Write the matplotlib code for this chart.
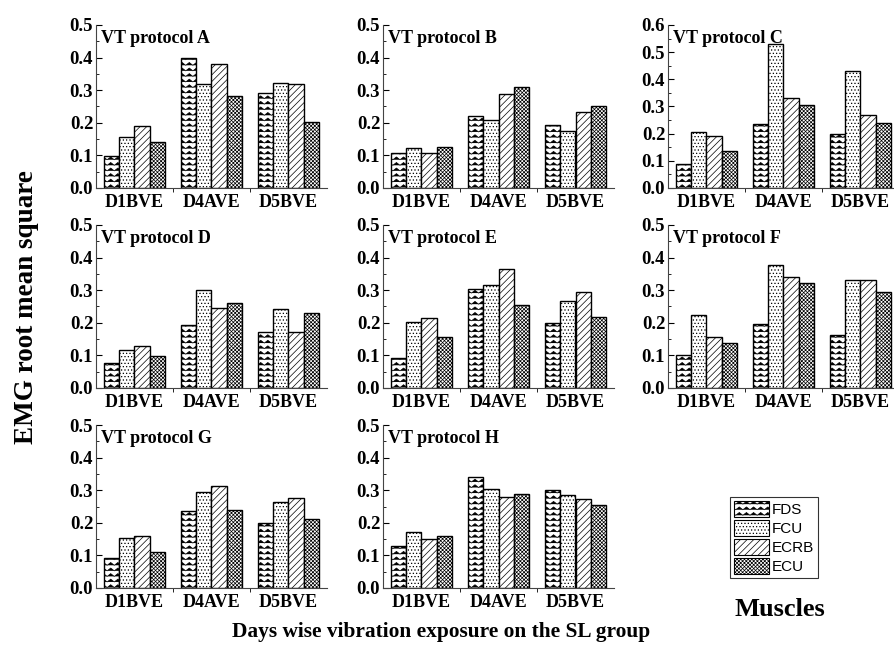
import warnings
import numpy as np
import matplotlib
matplotlib.use("Agg")
import matplotlib.pyplot as plt
from matplotlib import hatch as mhatch
from matplotlib.path import Path
from matplotlib.patches import Patch
from matplotlib.ticker import MultipleLocator, FixedLocator

warnings.filterwarnings("ignore")

# data
days = ["D1BVE", "D4AVE", "D5BVE"]
muscles = ["FDS", "FCU", "ECRB", "ECU"]
protocols = ["A", "B", "C", "D", "E", "F", "G", "H"]

fds = [[0.097, 0.398, 0.290], [0.108, 0.220, 0.193], [0.090, 0.236, 0.197],
       [0.077, 0.193, 0.171], [0.091, 0.303, 0.198], [0.100, 0.197, 0.163],
       [0.092, 0.236, 0.198], [0.128, 0.342, 0.300]]
fcu = [[0.157, 0.320, 0.322], [0.122, 0.208, 0.174], [0.207, 0.530, 0.430],
       [0.116, 0.300, 0.241], [0.203, 0.315, 0.268], [0.224, 0.376, 0.330],
       [0.153, 0.293, 0.265], [0.171, 0.305, 0.285]]
ecrb = [[0.190, 0.380, 0.320], [0.108, 0.287, 0.232], [0.190, 0.333, 0.268],
        [0.130, 0.244, 0.171], [0.215, 0.365, 0.293], [0.157, 0.342, 0.330],
        [0.158, 0.312, 0.276], [0.150, 0.280, 0.274]]
ecu = [[0.140, 0.283, 0.203], [0.125, 0.310, 0.252], [0.136, 0.307, 0.240],
       [0.098, 0.262, 0.229], [0.155, 0.255, 0.217], [0.138, 0.322, 0.295],
       [0.110, 0.240, 0.213], [0.160, 0.287, 0.254]]
ymax = [0.5, 0.5, 0.6, 0.5, 0.5, 0.5, 0.5, 0.5]


# zigzag hatch ('z') for the FDS bars
class ZigZagHatch(mhatch.HatchPatternBase):
    def __init__(self, hatch, density):
        self.num_rows = int(hatch.count("z") * density)
        self.num_teeth = 14
        self.num_vertices = self.num_rows * (2 * self.num_teeth + 1)

    def set_vertices_and_codes(self, vertices, codes):
        n = 2 * self.num_teeth + 1
        xs = np.linspace(0, 1, n)
        amp = 0.5 / self.num_rows
        offs = np.where(np.arange(n) % 2 == 0, -amp / 2, amp / 2)
        for i in range(self.num_rows):
            y = (i + 0.5) / self.num_rows
            vertices[i * n:(i + 1) * n, 0] = xs
            vertices[i * n:(i + 1) * n, 1] = y + offs
            codes[i * n] = Path.MOVETO
            codes[i * n + 1:(i + 1) * n] = Path.LINETO


mhatch._hatch_types.append(ZigZagHatch)

plt.rcParams["hatch.linewidth"] = 0.5
plt.rcParams["hatch.color"] = "black"
plt.rcParams["font.family"] = ["Liberation Serif", "DejaVu Serif"]
plt.rcParams["font.weight"] = "bold"

hatches = ["zzz", ".....", "/////", "xxxxxxxxx"]

fig = plt.figure(figsize=(8.95, 6.49), dpi=100)
W, H = 895, 649
lefts = [96, 383, 668]
tops = [25, 225, 425]
aw, ah = 231, 163

x = np.arange(1, 4)
bw = 0.2
for k, name in enumerate(protocols):
    r, c = divmod(k, 3)
    ax = fig.add_axes([lefts[c] / W, 1 - (tops[r] + ah) / H, aw / W, ah / H])
    series = [fds[k], fcu[k], ecrb[k], ecu[k]]
    for j, vals in enumerate(series):
        ax.bar(x + (j - 1.5) * bw, vals, width=bw, facecolor="white",
               edgecolor="black", linewidth=1.0, hatch=hatches[j])
    ax.set_xlim(0.5, 3.5)
    ax.set_ylim(0, ymax[k])
    ax.yaxis.set_major_locator(MultipleLocator(0.1))
    ax.yaxis.set_minor_locator(MultipleLocator(0.05))
    ax.set_yticklabels([f"{v:.1f}" for v in ax.get_yticks()])
    ax.set_xticks(x)
    ax.set_xticklabels(days)
    ax.xaxis.set_minor_locator(FixedLocator([1.5, 2.5]))
    ax.tick_params(axis="x", which="major", length=0, labelsize=13, pad=4)
    ax.tick_params(axis="x", which="minor", length=3, direction="out")
    ax.tick_params(axis="y", which="major", length=4, direction="in", labelsize=13.5, pad=2)
    ax.tick_params(axis="y", which="minor", length=2, direction="in")
    for lab in ax.get_xticklabels() + ax.get_yticklabels():
        lab.set_fontweight("bold")
    ax.spines["top"].set_visible(False)
    ax.spines["right"].set_visible(False)
    ax.spines["left"].set_color("#444444")
    ax.spines["bottom"].set_color("#444444")
    ax.text(0.02, 0.97, f"VT protocol {name}", transform=ax.transAxes,
            ha="left", va="top", fontsize=13, fontweight="bold")

fig.text(27 / W, 1 - 307 / H, "EMG root mean square", rotation=90,
         ha="center", va="center", fontsize=19.5, fontweight="bold")
fig.text(441 / W, 1 - 632 / H, "Days wise vibration exposure on the SL group",
         ha="center", va="center", fontsize=15.4, fontweight="bold")

handles = [Patch(facecolor="white", edgecolor="black", hatch=h, linewidth=0.8)
           for h in hatches]
leg = fig.legend(handles, muscles, loc="upper left",
                 bbox_to_anchor=(730 / W, 1 - 497 / H),
                 prop={"family": "Liberation Sans", "size": 11, "weight": "normal"},
                 frameon=True, fancybox=False, edgecolor="black",
                 handlelength=2.3, handleheight=1.3, handletextpad=0.2,
                 labelspacing=0.15, borderpad=0.25, borderaxespad=0)
leg.get_frame().set_linewidth(0.8)
fig.text(780 / W, 1 - 610 / H, "Muscles", ha="center", va="center",
         fontsize=19, fontweight="bold")

fig.savefig("out.png", dpi=100)
